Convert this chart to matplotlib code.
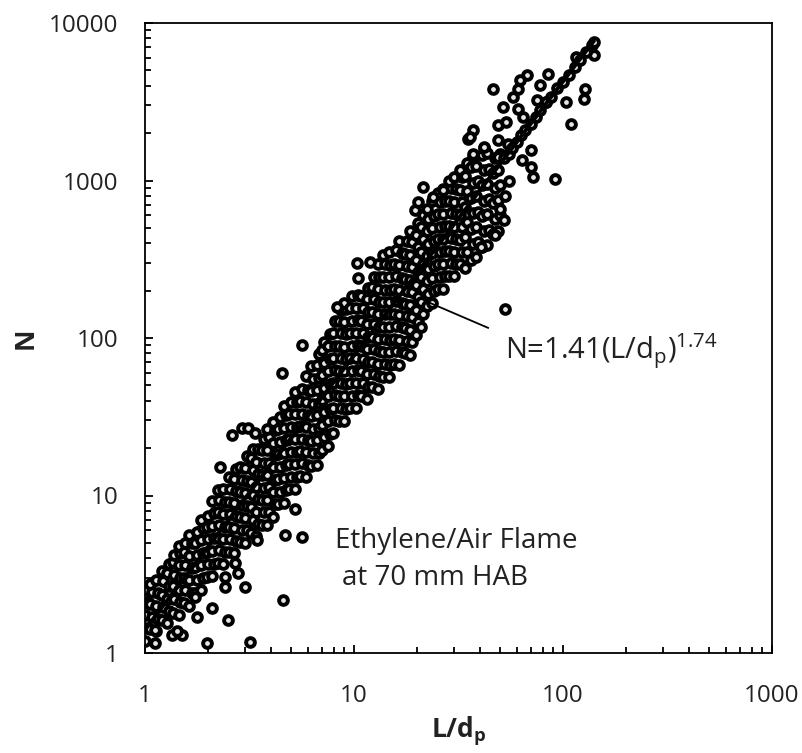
import matplotlib
matplotlib.use("Agg")
import matplotlib.pyplot as plt
from matplotlib.ticker import LogLocator, NullFormatter, FixedLocator, FixedFormatter

plt.rcParams['font.family'] = ['Open Sans', 'DejaVu Sans']
plt.rcParams['mathtext.fontset'] = 'custom'
plt.rcParams['mathtext.rm'] = 'Open Sans'
plt.rcParams['mathtext.it'] = 'Open Sans:italic'
plt.rcParams['mathtext.bf'] = 'Open Sans:bold'

# ---------------- data (L/dp, N) ----------------
seg_1_2 = [
    (1.00, 1.20), (1.02, 1.45), (1.00, 1.75), (1.02, 2.10), (1.00, 2.50),
    (1.06, 1.42), (1.08, 1.70), (1.06, 2.05), (1.08, 2.45), (1.06, 2.75),
    (1.13, 1.38), (1.15, 1.65), (1.13, 2.00), (1.15, 2.40), (1.13, 2.90),
    (1.20, 1.62), (1.22, 1.95), (1.20, 2.35), (1.22, 2.85), (1.20, 3.30),
    (1.28, 1.55), (1.30, 1.85), (1.28, 2.20), (1.30, 2.65), (1.28, 3.20), (1.30, 3.70),
    (1.36, 1.80), (1.38, 2.20), (1.36, 2.65), (1.38, 3.15), (1.36, 3.80), (1.38, 4.20),
    (1.45, 1.75), (1.47, 2.10), (1.45, 2.50), (1.47, 3.00), (1.45, 3.60), (1.47, 4.30), (1.45, 4.80),
    (1.54, 2.08), (1.56, 2.50), (1.54, 3.00), (1.56, 3.60), (1.54, 4.35), (1.56, 5.00),
    (1.63, 2.00), (1.67, 2.40), (1.63, 2.90), (1.67, 3.45), (1.63, 4.15), (1.67, 5.00), (1.63, 5.60),
    (1.74, 2.40), (1.78, 2.90), (1.74, 3.50), (1.78, 4.20), (1.74, 5.00), (1.78, 5.90),
    (1.85, 2.50), (1.89, 3.00), (1.85, 3.60), (1.89, 4.30), (1.85, 5.20), (1.89, 6.20), (1.85, 7.00),
    (1.97, 3.05), (2.01, 3.65), (1.97, 4.40), (2.01, 5.30), (1.97, 6.30), (2.01, 7.40),
]

seg_2_4 = [
    (2.10, 3.10), (2.14, 3.70), (2.10, 4.45), (2.14, 5.35), (2.10, 6.40), (2.14, 7.70), (2.10, 9.20),
    (2.23, 3.75), (2.27, 4.50), (2.23, 5.40), (2.27, 6.50), (2.23, 7.80), (2.27, 9.40), (2.23, 10.8),
    (2.37, 3.65), (2.41, 4.40), (2.37, 5.30), (2.41, 6.35), (2.37, 7.60), (2.41, 9.10), (2.37, 11.0),
    (2.52, 4.40), (2.56, 5.30), (2.52, 6.30), (2.56, 7.60), (2.52, 9.10), (2.56, 11.0), (2.52, 13.2),
    (2.68, 4.30), (2.72, 5.15), (2.68, 6.20), (2.72, 7.40), (2.68, 8.90), (2.72, 10.7), (2.68, 12.8), (2.72, 14.8),
    (2.84, 5.05), (2.90, 6.05), (2.84, 7.25), (2.90, 8.75), (2.84, 10.5), (2.90, 12.6), (2.84, 15.2),
    (3.02, 5.00), (3.08, 6.00), (3.02, 7.20), (3.08, 8.60), (3.02, 10.3), (3.08, 12.4), (3.02, 14.9), (3.08, 17.8),
    (3.21, 5.80), (3.27, 7.00), (3.21, 8.40), (3.27, 10.1), (3.21, 12.1), (3.27, 14.5), (3.21, 17.4), (3.27, 19.8),
    (3.41, 5.50), (3.47, 6.60), (3.41, 7.90), (3.47, 9.50), (3.41, 11.4), (3.47, 13.7), (3.41, 16.4), (3.47, 19.7),
    (3.62, 6.50), (3.70, 7.80), (3.62, 9.35), (3.70, 11.2), (3.62, 13.4), (3.70, 16.2), (3.62, 19.4), (3.70, 22.8),
    (3.85, 6.50), (3.93, 7.80), (3.85, 9.40), (3.93, 11.3), (3.85, 13.5), (3.93, 16.2), (3.85, 19.5), (3.93, 23.4), (3.85, 26.5),
]

seg_4_8 = [
    (4.09, 7.30), (4.17, 8.80), (4.09, 10.5), (4.17, 12.6), (4.09, 15.1), (4.17, 18.1), (4.09, 21.7), (4.17, 26.0), (4.09, 29.5),
    (4.35, 8.80), (4.43, 10.6), (4.35, 12.7), (4.43, 15.2), (4.35, 18.3), (4.43, 21.9), (4.35, 26.3), (4.43, 31.5),
    (4.61, 9.00), (4.71, 10.8), (4.61, 13.0), (4.71, 15.6), (4.61, 18.7), (4.71, 22.4), (4.61, 26.9), (4.71, 32.3), (4.61, 37.0),
    (4.90, 11.0), (5.00, 13.2), (4.90, 15.8), (5.00, 19.0), (4.90, 22.8), (5.00, 27.4), (4.90, 32.9), (5.00, 39.4),
    (5.21, 11.0), (5.31, 13.2), (5.21, 15.8), (5.31, 19.0), (5.21, 22.8), (5.31, 27.4), (5.21, 32.9), (5.31, 39.4), (5.21, 45.5),
    (5.53, 13.3), (5.65, 16.0), (5.53, 19.1), (5.65, 23.0), (5.53, 27.6), (5.65, 33.1), (5.53, 39.7), (5.65, 47.7),
    (5.88, 13.1), (6.00, 15.7), (5.88, 18.9), (6.00, 22.6), (5.88, 27.2), (6.00, 32.6), (5.88, 39.1), (6.00, 46.9), (5.88, 57.0),
    (6.25, 15.4), (6.37, 18.5), (6.25, 22.2), (6.37, 26.6), (6.25, 31.9), (6.37, 38.3), (6.25, 46.0), (6.37, 55.2), (6.25, 66.2),
    (6.63, 15.6), (6.77, 18.7), (6.63, 22.5), (6.77, 27.0), (6.63, 32.4), (6.77, 38.8), (6.63, 46.6), (6.77, 55.9), (6.63, 67.1), (6.77, 79.0),
    (7.05, 19.5), (7.19, 23.4), (7.05, 28.1), (7.19, 33.7), (7.05, 40.4), (7.19, 48.4), (7.05, 58.1), (7.19, 69.7), (7.05, 83.7), (7.19, 95.0),
    (7.49, 20.6), (7.65, 24.7), (7.49, 29.7), (7.65, 35.6), (7.49, 42.7), (7.65, 51.3), (7.49, 61.5), (7.65, 73.8), (7.49, 88.6), (7.65, 106),
]

seg_8_16 = [
    (7.97, 25.0), (8.13, 30.0), (7.97, 36.0), (8.13, 43.2), (7.97, 51.8), (8.13, 62.2), (7.97, 74.6), (8.13, 89.5), (7.97, 107), (8.13, 129),
    (8.46, 29.9), (8.64, 35.9), (8.46, 43.0), (8.64, 51.6), (8.46, 62.0), (8.64, 74.4), (8.46, 89.2), (8.64, 107), (8.46, 128), (8.64, 150),
    (9.00, 29.6), (9.18, 35.5), (9.00, 42.6), (9.18, 51.1), (9.00, 61.3), (9.18, 73.6), (9.00, 88.3), (9.18, 106), (9.00, 127), (9.18, 153), (9.00, 168),
    (9.56, 35.9), (9.76, 43.0), (9.56, 51.6), (9.76, 62.0), (9.56, 74.4), (9.76, 89.2), (9.56, 107), (9.76, 128), (9.56, 154), (9.76, 185),
    (10.2, 36.2), (10.4, 43.4), (10.2, 52.1), (10.4, 62.5), (10.2, 75.0), (10.4, 90.0), (10.2, 108), (10.4, 130), (10.2, 156), (10.4, 187),
    (10.8, 42.9), (11.0, 51.5), (10.8, 61.8), (11.0, 74.1), (10.8, 89.0), (11.0, 107), (10.8, 128), (11.0, 154), (10.8, 185),
    (11.5, 41.0), (11.7, 49.2), (11.5, 59.0), (11.7, 70.8), (11.5, 85.0), (11.7, 102), (11.5, 122), (11.7, 147), (11.5, 176), (11.7, 208),
    (12.2, 49.0), (12.4, 58.8), (12.2, 70.5), (12.4, 84.6), (12.2, 101), (12.4, 122), (12.2, 146), (12.4, 176), (12.2, 211), (12.4, 245),
    (13.0, 47.5), (13.2, 57.0), (13.0, 68.4), (13.2, 82.1), (13.0, 98.5), (13.2, 118), (13.0, 142), (13.2, 170), (13.0, 204), (13.2, 245), (13.0, 295),
    (13.8, 56.7), (14.0, 68.0), (13.8, 81.6), (14.0, 97.9), (13.8, 117), (14.0, 141), (13.8, 169), (14.0, 203), (13.8, 244), (14.0, 293), (13.8, 335),
    (14.7, 56.5), (14.9, 67.8), (14.7, 81.4), (14.9, 97.6), (14.7, 117), (14.9, 141), (14.7, 169), (14.9, 203), (14.7, 243), (14.9, 292), (14.7, 350),
    (15.6, 68.8), (15.8, 82.5), (15.6, 99.0), (15.8, 119), (15.6, 143), (15.8, 171), (15.6, 206), (15.8, 247), (15.6, 296), (15.8, 360),
]

seg_16_33 = [
    (16.5, 67.5), (16.9, 81.0), (16.5, 97.2), (16.9, 117), (16.5, 140), (16.9, 168), (16.5, 201), (16.9, 242), (16.5, 290), (16.9, 348), (16.5, 415),
    (17.5, 79.8), (17.9, 95.7), (17.5, 115), (17.9, 138), (17.5, 165), (17.9, 198), (17.5, 238), (17.9, 286), (17.5, 343), (17.9, 412),
    (18.6, 78.5), (19.0, 94.2), (18.6, 113), (19.0, 136), (18.6, 163), (19.0, 195), (18.6, 235), (19.0, 281), (18.6, 338), (19.0, 405), (18.6, 480),
    (19.8, 105), (20.2, 126), (19.8, 151), (20.2, 182), (19.8, 218), (20.2, 262), (19.8, 314), (20.2, 377), (19.8, 452), (20.2, 540),
    (21.0, 118), (21.4, 142), (21.0, 170), (21.4, 204), (21.0, 245), (21.4, 294), (21.0, 353), (21.4, 423), (21.0, 508), (21.4, 600),
    (22.3, 159), (22.7, 191), (22.3, 230), (22.7, 276), (22.3, 331), (22.7, 397), (22.3, 476), (22.7, 572), (22.3, 660),
    (23.7, 166), (24.1, 199), (23.7, 239), (24.1, 287), (23.7, 344), (24.1, 413), (23.7, 496), (24.1, 595), (23.7, 740),
    (25.1, 205), (25.7, 245), (25.1, 294), (25.7, 353), (25.1, 424), (25.7, 509), (25.1, 611), (25.7, 733), (25.1, 830),
    (26.7, 206), (27.3, 247), (26.7, 296), (27.3, 356), (26.7, 427), (27.3, 512), (26.7, 614), (27.3, 737), (26.7, 884),
    (28.4, 249), (29.0, 298), (28.4, 358), (29.0, 429), (28.4, 515), (29.0, 618), (28.4, 742), (29.0, 890), (28.4, 1000),
    (30.2, 246), (30.8, 295), (30.2, 354), (30.8, 425), (30.2, 510), (30.8, 612), (30.2, 734), (30.8, 881), (30.2, 1060),
    (32.0, 293), (32.8, 351), (32.0, 421), (32.8, 506), (32.0, 607), (32.8, 728), (32.0, 874), (32.8, 1049), (32.0, 1170),
]

seg_33_52 = [
    (34.0, 280), (34.8, 350), (34.0, 437), (34.8, 546), (34.0, 683), (34.8, 854), (34.0, 1067), (34.8, 1300),
    (36.2, 315), (37.0, 395), (36.2, 495), (37.0, 620), (36.2, 775), (37.0, 970), (36.2, 1210), (37.0, 1420),
    (38.5, 325), (39.3, 406), (38.5, 508), (39.3, 635), (38.5, 794), (39.3, 992), (38.5, 1240),
    (40.9, 380), (41.7, 475), (40.9, 595), (41.7, 745), (40.9, 930), (41.7, 1160), (40.9, 1450), (41.7, 1600),
    (43.4, 390), (44.4, 488), (43.4, 610), (44.4, 762), (43.4, 953), (44.4, 1190), (43.4, 1490),
    (46.1, 455), (47.1, 570), (46.1, 715), (47.1, 895), (46.1, 1120), (47.1, 1380),
    (49.1, 480), (50.1, 600), (49.1, 750), (50.1, 938), (49.1, 1172), (50.1, 1465), (49.1, 1800),
    (52.0, 560), (53.0, 800), (55.0, 1000),
]

seg_top = [
    (140, 6270), (115, 6080), (128, 3810), (126, 3290), (103, 3150), (109, 2290), (92, 1020),
    (85, 4750), (78, 4040), (75.5, 3250), (82.6, 3150), (67.6, 4680), (62.6, 4350), (60.6, 3810),
    (46.5, 3810), (57.4, 3390), (51.9, 2930), (60.6, 2850), (64.7, 2530), (49.1, 2250), (53.1, 2350),
    (37.3, 2095), (35.3, 1835), (70.0, 1560), (70.0, 1220), (71.5, 1050), (64.0, 1350), (54.3, 1706),
    (41.7, 1633), (37.3, 1470), (48.6, 1410), (50.2, 659), (47.5, 451), (40.3, 378),
]

seg_on_line = [
    (52, 1390), (55, 1480), (57, 1620), (60, 1760), (63, 1950), (66, 2080), (70, 2300), (74, 2520),
    (78, 2800), (83, 3150), (88, 3400), (94, 3850), (100, 4250), (107, 4650), (114, 5250), (121, 5800),
    (129, 6500), (137, 7300), (141, 7600),
]

outliers_low = [
    (2.28, 15.2), (2.61, 24.2), (2.91, 26.8), (3.11, 26.8), (3.36, 24.9), (4.51, 59.7), (5.62, 90.3),
    (4.67, 5.60), (5.64, 5.45), (3.43, 5.20), (5.22, 8.20), (4.57, 2.17), (3.18, 1.17), (1.98, 1.16),
    (2.50, 1.62), (2.09, 1.93), (2.41, 3.05), (2.41, 2.64), (2.70, 3.71), (2.79, 3.21), (3.01, 2.64),
    (1.34, 1.30), (1.50, 1.30), (1.42, 1.37), (1.77, 1.69), (1.73, 2.28), (1.12, 1.40), (1.12, 1.16),
]

outliers_high = [
    (10.3, 299), (11.9, 304), (10.5, 240), (8.25, 158), (21.5, 912), (19.6, 654), (20.3, 735),
    (24.0, 790), (26.7, 865), (35.9, 1890), (53.0, 153),
]

FIT_A = 1.41
FIT_B = 1.74
fit_x = [1.0, 140.0]

x_ticks = [1, 10, 100, 1000]
x_tick_labels = ['1', '10', '100', '1000']
y_ticks = [1, 10, 100, 1000, 10000]
y_tick_labels = ['1', '10', '100', '1000', '10000']

# ---------------- figure ----------------
W, H = 803, 753
fig = plt.figure(figsize=(W / 100, H / 100), dpi=100)
ax = fig.add_axes([145 / W, 100 / H, 627 / W, 630 / H])

all_pts = (seg_1_2 + seg_2_4 + seg_4_8 + seg_8_16 + seg_16_33 + seg_33_52
           + seg_top + seg_on_line + outliers_low + outliers_high)
xs = [p[0] for p in all_pts]
ns = [p[1] for p in all_pts]

ax.plot(xs, ns, linestyle='none', marker='o', ms=6.3, mew=2.8,
        mfc='#e6e6e6', mec='#000000', zorder=2)

fit_n = [FIT_A * v ** FIT_B for v in fit_x]
ax.plot(fit_x, fit_n, color='black', lw=2.8, zorder=3)

# annotation leader line
ax.plot([23.1, 43.8], [167, 116], color='black', lw=1.3, zorder=4)

txt_color = '#222222'
ax.text(52.8, 73.6, r'N=1.41(L/d$_{\mathregular{p}}$)$^{\mathregular{1.74}}$',
        fontsize=21, ha='left', va='baseline', color=txt_color)
ax.text(8.11, 4.64, 'Ethylene/Air Flame', fontsize=20, ha='left', va='baseline', color=txt_color)
ax.text(8.73, 2.70, 'at 70 mm HAB', fontsize=20, ha='left', va='baseline', color=txt_color)

ax.set_xscale('log')
ax.set_yscale('log')
ax.set_xlim(1, 1000)
ax.set_ylim(1, 10000)

ax.xaxis.set_major_locator(FixedLocator(x_ticks))
ax.xaxis.set_major_formatter(FixedFormatter(x_tick_labels))
ax.yaxis.set_major_locator(FixedLocator(y_ticks))
ax.yaxis.set_major_formatter(FixedFormatter(y_tick_labels))
ax.xaxis.set_minor_locator(LogLocator(base=10, subs=range(2, 10), numticks=30))
ax.yaxis.set_minor_locator(LogLocator(base=10, subs=range(2, 10), numticks=30))
ax.xaxis.set_minor_formatter(NullFormatter())
ax.yaxis.set_minor_formatter(NullFormatter())

ax.tick_params(which='both', direction='in', top=False, right=False, width=1.3, color='black')
ax.tick_params(which='major', length=6)
ax.tick_params(which='minor', length=4)
ax.tick_params(axis='x', which='major', labelsize=17.5, pad=22, labelcolor=txt_color)
ax.tick_params(axis='y', which='major', labelsize=17.5, pad=19, labelcolor=txt_color)

for s in ax.spines.values():
    s.set_linewidth(1.3)
    s.set_color('black')

ax.set_xlabel(r'L/d$_{\mathregular{p}}$', fontsize=19, fontweight='bold', color=txt_color)
ax.xaxis.set_label_coords(0.5, -0.097)
ax.set_ylabel('N', fontsize=19, fontweight='bold', color=txt_color)
ax.yaxis.set_label_coords(-0.17, 0.5)

fig.savefig('out.png', dpi=100)
